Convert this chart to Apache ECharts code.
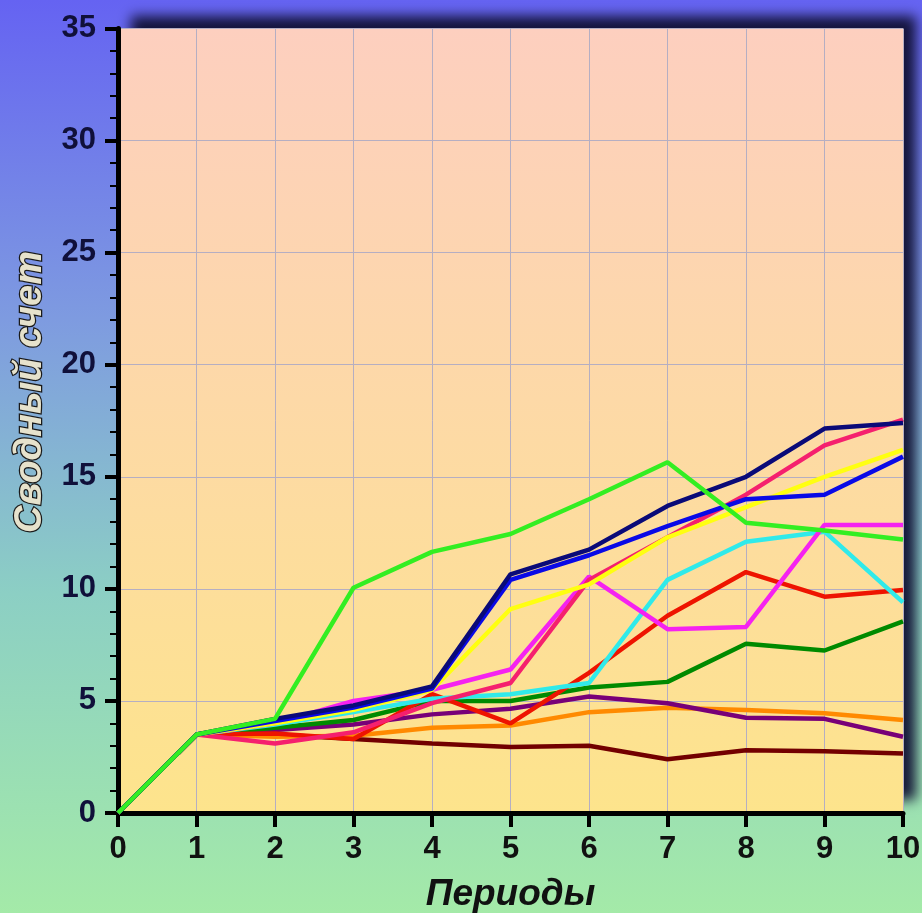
<!DOCTYPE html>
<html>
<head>
<meta charset="utf-8">
<script src="https://cdn.jsdelivr.net/npm/echarts@6/dist/echarts.min.js"></script>
<style>
html,body{margin:0;padding:0;width:922px;height:913px;overflow:hidden;}
#c{width:922px;height:913px;}
</style>
</head>
<body>
<div id="c"></div>
<script>
// Periods (x axis)
const periods = [0,1,2,3,4,5,6,7,8,9,10];
const xTicks = [0,1,2,3,4,5,6,7,8,9,10];
const yTicks = [0,5,10,15,20,25,30,35];
const xTitle = 'Периоды';
const yTitle = 'Сводный счет';

// Series values (Сводный счет per period)
const maroon  = [0,3.5,3.5,3.3,3.1,2.95,3.0,2.4,2.8,2.75,2.65];
const orange  = [0,3.5,3.4,3.45,3.8,3.9,4.5,4.7,4.6,4.45,4.15];
const purple  = [0,3.5,3.7,3.95,4.4,4.65,5.2,4.9,4.25,4.2,3.4];
const dkgreen = [0,3.5,3.8,4.15,5.0,5.0,5.6,5.85,7.55,7.25,8.55];
const red     = [0,3.5,3.55,3.3,5.3,4.0,6.25,8.8,10.75,9.65,9.95];
const cyan    = [0,3.5,3.95,4.5,5.1,5.3,5.8,10.4,12.1,12.55,9.4];
const magenta = [0,3.5,4.0,5.0,5.5,6.4,10.55,8.2,8.3,12.85,12.85];
const pink    = [0,3.5,3.1,3.6,4.9,5.8,10.4,12.3,14.2,16.4,17.55];
const yellow  = [0,3.5,4.0,4.6,5.5,9.1,10.2,12.3,13.65,15.0,16.2];
const blue    = [0,3.5,4.1,4.7,5.55,10.4,11.5,12.8,14.0,14.2,15.9];
const navy    = [0,3.5,4.2,4.8,5.65,10.65,11.75,13.7,15.0,17.15,17.4];
const green   = [0,3.5,4.2,10.05,11.65,12.45,14.0,15.65,12.95,12.6,12.2];

const seriesDefs = [
  {name:'s12', data: maroon,  color:'#730000'},
  {name:'s11', data: orange,  color:'#ff8a00'},
  {name:'s10', data: purple,  color:'#780078'},
  {name:'s9',  data: dkgreen, color:'#008a00'},
  {name:'s8',  data: red,     color:'#ee1400'},
  {name:'s7',  data: cyan,    color:'#30eaea'},
  {name:'s6',  data: magenta, color:'#f522f0'},
  {name:'s5',  data: pink,    color:'#f5206e'},
  {name:'s4',  data: yellow,  color:'#ffff10'},
  {name:'s3',  data: blue,    color:'#0a0ae6'},
  {name:'s2',  data: navy,    color:'#0a0a78'},
  {name:'s1',  data: green,   color:'#33ee22'}
];

const chart = echarts.init(document.getElementById('c'), null, {renderer:'canvas'});

const option = {
  animation: false,
  backgroundColor: {
    type:'linear', x:0, y:0, x2:0, y2:1,
    colorStops:[
      {offset:0, color:'#6563f2'},
      {offset:0.35, color:'#7e9be0'},
      {offset:0.65, color:'#8ccfc4'},
      {offset:1, color:'#a4eaa8'}
    ]
  },
  grid: {
    left:118, right:19, top:28.5, bottom:100,
    outerBoundsMode:'none',
    containLabel:false,
    show:true,
    borderWidth:0,
    backgroundColor:{
      type:'linear', x:0, y:0, x2:0, y2:1,
      colorStops:[
        {offset:0, color:'#fdcfbf'},
        {offset:1, color:'#fde48c'}
      ]
    },
    shadowColor:'rgba(15,15,50,0.95)',
    shadowBlur:12,
    shadowOffsetX:13,
    shadowOffsetY:-13
  },
  graphic: [{
    type:'text', x:31, y:392, rotation:Math.PI/2, z:100,
    style:{
      text:yTitle, font:'italic bold 38px "Liberation Sans"',
      fill:'#e6e2cc', stroke:'#1a1a1a', lineWidth:2.5,
      align:'center', verticalAlign:'middle'
    }
  }],
  xAxis: {
    type:'value', min:0, max:10, interval:1,
    name:xTitle, nameLocation:'middle', nameGap:63,
    nameTextStyle:{fontSize:37, fontStyle:'italic', fontWeight:'bold', color:'#111', fontFamily:'Liberation Sans'},
    axisLine:{show:true, onZero:false, lineStyle:{color:'#000', width:5}},
    axisTick:{show:true, length:14, lineStyle:{color:'#000', width:4}},
    axisLabel:{fontSize:31, fontWeight:'bold', color:'#111', margin:21, fontFamily:'Liberation Sans',
      formatter: v => xTicks.includes(v) ? String(v) : ''},
    splitLine:{show:true, lineStyle:{color:'#b5aec2', width:1}}
  },
  yAxis: {
    type:'value', min:0, max:35, interval:5,
    axisLine:{show:true, onZero:false, lineStyle:{color:'#000', width:5}},
    axisTick:{show:true, length:13, lineStyle:{color:'#000', width:4}},
    minorTick:{show:true, splitNumber:5, length:8, lineStyle:{color:'#000', width:2}},
    axisLabel:{fontSize:31, fontWeight:'bold', color:'#10103a', margin:22, fontFamily:'Liberation Sans',
      formatter: v => yTicks.includes(v) ? String(v) : ''},
    splitLine:{show:true, lineStyle:{color:'#b5aec2', width:1}}
  },
  series: seriesDefs.map(s => ({
    name:s.name,
    type:'line',
    data: periods.map((p,i) => [p, s.data[i]]),
    showSymbol:false,
    symbol:'none',
    lineStyle:{color:s.color, width:4.5},
    itemStyle:{color:s.color}
  }))
};
chart.setOption(option);
</script>
</body>
</html>
